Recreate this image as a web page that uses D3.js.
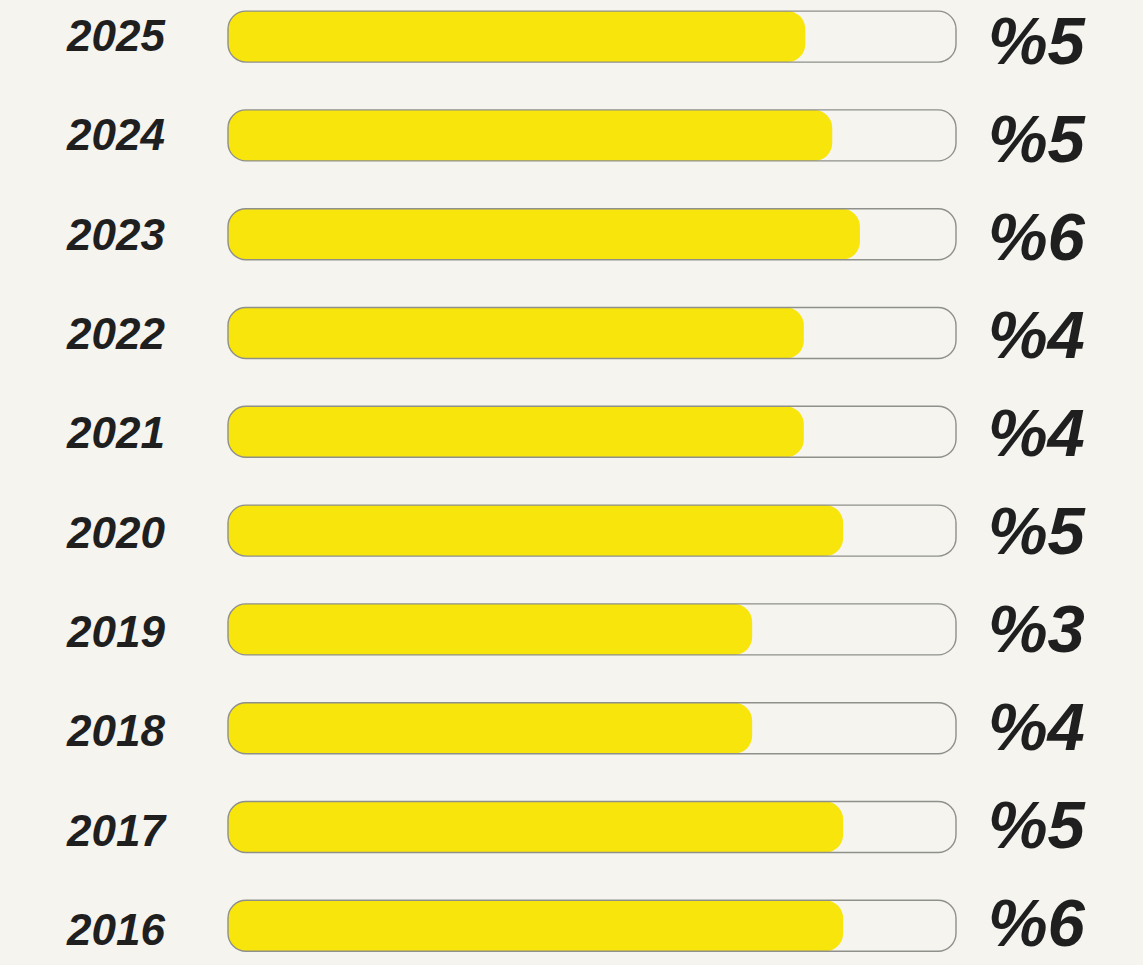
<!DOCTYPE html>
<html>
<head>
<meta charset="utf-8">
<script src="https://cdn.jsdelivr.net/npm/d3@7"></script>
<style>
  html, body { margin: 0; padding: 0; background: #f5f4ef; }
  svg { display: block; }
</style>
</head>
<body>
<svg id="chart" width="1143" height="965"></svg>
<script>
// Categories (years, top to bottom)
const years = ["2025", "2024", "2023", "2022", "2021", "2020", "2019", "2018", "2017", "2016"];
// Percentage labels shown at right
const pctValues = [5, 5, 6, 4, 4, 5, 3, 4, 5, 6];
// Bar fill level (share of the track, 0-100)
const fillLevels = [79.3, 83.0, 86.8, 79.1, 79.1, 84.5, 72.0, 72.0, 84.5, 84.5];

const W = 1143, H = 965;
const svg = d3.select("#chart");
svg.append("rect").attr("width", W).attr("height", H).attr("fill", "#f5f4ef");

const trackX0 = 228, trackX1 = 956;
const barH = 51, r = 18;

const y = d3.scalePoint().domain(years).range([36.6, 925.8]);
const yYear = d3.scalePoint().domain(years).range([35, 929]);
const yPct = d3.scalePoint().domain(years).range([40, 922]);
const x = d3.scaleLinear().domain([0, 100]).range([trackX0, trackX1]);

const data = years.map((yr, i) => ({ year: yr, pct: pctValues[i], fill: fillLevels[i] }));

const bars = svg.selectAll("g.row").data(data).join("g")
  .attr("class", "row")
  .attr("transform", d => `translate(0,${y(d.year)})`);

// track background
bars.append("rect")
  .attr("x", x(0)).attr("y", -barH / 2)
  .attr("width", x(100) - x(0)).attr("height", barH)
  .attr("rx", r).attr("ry", r)
  .attr("fill", "#f5f4ef");

// yellow fill
bars.append("rect")
  .attr("x", x(0)).attr("y", -barH / 2)
  .attr("width", d => x(d.fill) - x(0)).attr("height", barH)
  .attr("rx", r).attr("ry", r)
  .attr("fill", "#f8e50b");

// track outline on top
bars.append("rect")
  .attr("x", x(0)).attr("y", -barH / 2)
  .attr("width", x(100) - x(0)).attr("height", barH)
  .attr("rx", r).attr("ry", r)
  .attr("fill", "none")
  .attr("stroke", "#8f8f8c")
  .attr("stroke-width", 1.4);

// year labels
svg.selectAll("text.year").data(data).join("text")
  .attr("class", "year")
  .attr("x", 67).attr("y", d => yYear(d.year)).attr("dy", "0.36em")
  .attr("font-family", "'Liberation Sans', Arial, sans-serif")
  .attr("font-weight", "bold").attr("font-style", "italic")
  .attr("font-size", 44)
  .attr("fill", "#1f1f1f")
  .text(d => d.year);

// percentage labels
svg.selectAll("text.pct").data(data).join("text")
  .attr("class", "pct")
  .attr("x", 988).attr("y", d => yPct(d.year)).attr("dy", "0.36em")
  .attr("font-family", "'Liberation Sans', Arial, sans-serif")
  .attr("font-weight", "bold").attr("font-style", "italic")
  .attr("font-size", 67)
  .attr("fill", "#1f1f1f")
  .text(d => "%" + d.pct);
</script>
</body>
</html>
